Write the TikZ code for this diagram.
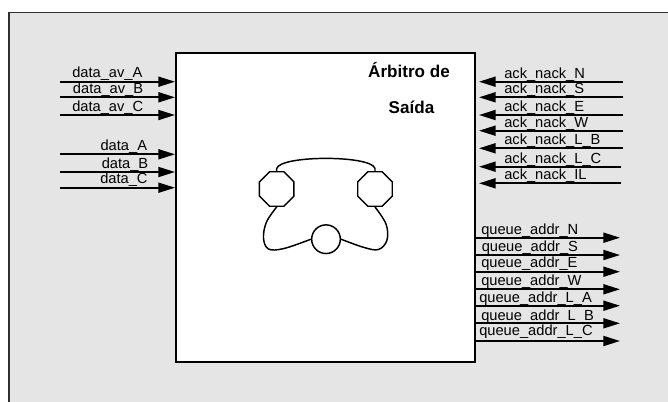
\documentclass[tikz,border=0pt]{standalone}
\usepackage{fontspec}
\setmainfont{Liberation Sans}
\usetikzlibrary{arrows.meta,shapes.geometric,calc}
\definecolor{panel}{HTML}{E5E5E5}
\definecolor{rim}{HTML}{303030}
\begin{document}
\begin{tikzpicture}[x=0.75pt,y=-0.75pt,
  sig/.style={line width=1.4pt,-{Triangle[length=12.5pt,width=7.5pt]}},
  lbl/.style={font=\fontsize{11}{13}\selectfont,inner sep=0pt,anchor=base west},
  ttl/.style={font=\fontsize{12.8}{15}\selectfont\bfseries,inner sep=0pt,anchor=base},
  port/.style={draw,line width=1.1pt,fill=white,inner sep=0pt}]
\useasboundingbox (0,0) rectangle (668,401);
\clip (0,0) rectangle (668,401);

% background panel
\draw[fill=panel,draw=rim,line width=1.1pt] (9,12.3) rectangle (690,420);

% arbiter block
\node[draw,fill=white,line width=1.5pt,inner sep=0pt,
      minimum width=224.25pt,minimum height=232.2pt] (arb) at (325.5,207.5) {};
\node[ttl] (t1) at (409,77) {Árbitro de};
\node[ttl] (t2) at (411.5,113) {Saída};

% inputs on the left
\foreach \n/\y in {1/81.7,2/97.3,3/115,4/154.3,5/172,6/187.7}{
  \coordinate (in\n) at (60,\y);
  \draw[sig] (in\n) -- (in\n -| arb.west);
}
\node[lbl] (l1) at (72,77.9)    {data\_av\_A};
\node[lbl] (l2) at (72.7,93.5)  {data\_av\_B};
\node[lbl] (l3) at (72,111.2)   {data\_av\_C};
\node[lbl] (l4) at (100.3,150.5){data\_A};
\node[lbl] (l5) at (101.5,168.2){data\_B};
\node[lbl] (l6) at (100,183.9)  {data\_C};

% ack/nack inputs on the right
\foreach \n/\y/\x in {1/81.7/623,2/97.3/623,3/115/623,4/130.7/623,5/148.3/623,6/166.7/621,7/183.3/621}{
  \coordinate (ak\n) at (\x,\y);
  \draw[sig] (ak\n) -- ($(ak\n -| arb.east)+(3,0)$);
}
\node[lbl] (a1) at (504,78.2)  {ack\_nack\_N};
\node[lbl] (a2) at (504,93.8)  {ack\_nack\_S};
\node[lbl] (a3) at (504,111.5) {ack\_nack\_E};
\node[lbl] (a4) at (504,127.2) {ack\_nack\_W};
\node[lbl] (a5) at (504,144.8) {ack\_nack\_L\_B};
\node[lbl] (a6) at (504,163.2) {ack\_nack\_L\_C};
\node[lbl] (a7) at (504,179.8) {ack\_nack\_IL};

% queue address outputs
\foreach \n/\y in {1/237.7,2/255,3/271.7,4/289.3,5/305.7,6/323.3,7/341}{
  \coordinate (qa\n) at (620,\y);
  \draw[sig] (qa\n -| arb.east) -- (qa\n);
}
\node[lbl] (q1) at (481,234.5) {queue\_addr\_N};
\node[lbl] (q2) at (481.5,251) {queue\_addr\_S};
\node[lbl] (q3) at (481,267.7)  {queue\_addr\_E};
\node[lbl] (q4) at (481,285)    {queue\_addr\_W};
\node[lbl] (q5) at (479,302)    {queue\_addr\_L\_A};
\node[lbl] (q6) at (481,320)    {queue\_addr\_L\_B};
\node[lbl] (q7) at (479,335.5)  {queue\_addr\_L\_C};

% ring of three ports
\node[port,regular polygon,regular polygon sides=8,minimum size=28pt] (oL) at (276.7,189) {};
\node[port,regular polygon,regular polygon sides=8,minimum size=28pt] (oR) at (375,189) {};
\node[port,circle,minimum size=21.5pt] (cB) at (326,239.2) {};

\draw[line width=1.1pt] (oL.north) -- ++(0,-2.5)
  .. controls (280,155) and (372,155) .. ($(oR.north)+(0,-2.5)$) -- (oR.north);
\draw[line width=1.1pt] plot[smooth,tension=0.6] coordinates
  {(oL.south) (266.5,222) (263.5,238) (268.5,249) (284,248.5) (cB.west)};
\draw[line width=1.1pt] plot[smooth,tension=0.6] coordinates
  {(oR.south) (386,224) (387,240) (378.5,249.5) (363.5,247.3) (cB.east)};
\end{tikzpicture}
\end{document}
